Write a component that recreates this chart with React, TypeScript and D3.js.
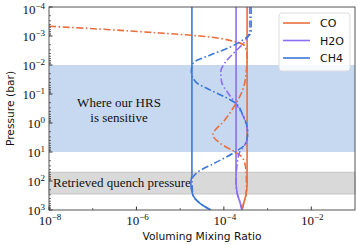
import * as d3 from "d3";

// pressures in bar, volume mixing ratios
const coSolidP = [1e-4, 126, 300, 630, 1000];
const coSolidX = [3.4e-4, 3.4e-4, 3.2e-4, 2.8e-4, 2.6e-4];

const h2oSolidP = [1e-4, 100, 250, 500, 1000];
const h2oSolidX = [1.9e-4, 1.9e-4, 2.0e-4, 2.3e-4, 2.6e-4];

const ch4SolidP = [1e-4, 60, 120, 300, 575, 1000];
const ch4SolidX = [1.86e-5, 1.86e-5, 1.75e-5, 1.95e-5, 2.8e-5, 5e-5];

const coEqP = [4.6e-4, 5.8e-4, 7.9e-4, 1e-3, 1.6e-3, 2.2e-3, 4.6e-3, 2.2e-2, 7.2e-2, 0.24, 0.79, 2.6, 4.9, 10, 16, 42, 160, 300, 630, 1000];
const coEqX = [1e-8, 1.5e-7, 3.5e-6, 2.8e-5, 1.9e-4, 3.0e-4, 3.4e-4, 3.2e-4, 2.7e-4, 1.8e-4, 1.05e-4, 5.6e-5, 8.1e-5, 1.8e-4, 2.7e-4, 3.2e-4, 3.3e-4, 3.2e-4, 2.8e-4, 2.6e-4];

const h2oEqP = [1e-4, 6.3e-4, 1.4e-3, 3.5e-3, 8.5e-3, 1.7e-2, 3.9e-2, 8.5e-2, 0.22, 0.68, 2.6, 5.8, 10, 28, 100, 250, 500, 1000];
const h2oEqX = [3.9e-4, 3.9e-4, 3.2e-4, 1.8e-4, 1.05e-4, 8.5e-5, 8.9e-5, 1.2e-4, 1.9e-4, 2.9e-4, 3.5e-4, 3.0e-4, 2.3e-4, 2.0e-4, 1.9e-4, 2.0e-4, 2.3e-4, 2.6e-4];

const ch4EqP = [1e-4, 7.2e-4, 1.6e-3, 2.4e-3, 4.6e-3, 8.5e-3, 1.7e-2, 3.9e-2, 7.2e-2, 0.126, 0.2, 0.52, 2.0, 4.9, 10, 24, 52, 93, 300, 575, 1000];
const ch4EqX = [4.2e-4, 4.2e-4, 2.3e-4, 1.4e-4, 4.8e-5, 2.0e-5, 1.8e-5, 2.3e-5, 4.8e-5, 1.05e-4, 1.8e-4, 2.7e-4, 3.5e-4, 3.2e-4, 1.8e-4, 6.2e-5, 2.4e-5, 1.86e-5, 1.95e-5, 2.8e-5, 5e-5];

const species = ["CO", "H2O", "CH4"];
const colors = ["#E8703F", "#8C6EF5", "#3C78D8"];

const yTickExps = [-4, -3, -2, -1, 0, 1, 2, 3];
const xTickExps = [-8, -6, -4, -2];

const sensitiveBand = [1e-2, 10];
const quenchBand = [50, 280];

export default function App() {
  const width = 357;
  const height = 245;
  const left = 49;
  const right = 355;
  const top = 7;
  const bottom = 210;

  const x = d3.scaleLog().domain([1e-8, 1e-1]).range([left, right]);
  const y = d3.scaleLog().domain([1e-4, 1e3]).range([top, bottom]);

  const line = d3
    .line<[number, number]>()
    .x((d) => x(d[0]))
    .y((d) => y(d[1]))
    .curve(d3.curveMonotoneY);

  const zip = (xs: number[], ps: number[]) =>
    ps.map((p, i) => [xs[i], p] as [number, number]);

  const solids = [
    zip(coSolidX, coSolidP),
    zip(h2oSolidX, h2oSolidP),
    zip(ch4SolidX, ch4SolidP),
  ];
  const eqs = [zip(coEqX, coEqP), zip(h2oEqX, h2oEqP), zip(ch4EqX, ch4EqP)];

  const yMinor: number[] = [];
  for (let e = -4; e < 3; e++) {
    for (let k = 2; k < 10; k++) yMinor.push(k * Math.pow(10, e));
  }
  const xMinor = [-7, -5, -3].map((e) => Math.pow(10, e));

  const serif = "'Liberation Serif', 'DejaVu Serif', serif";
  const sans = "'DejaVu Sans', sans-serif";

  return (
    <svg
      width={width}
      height={height}
      style={{ position: "absolute", left: 0, top: 0 }}
    >
      <defs>
        <clipPath id="plot">
          <rect x={left} y={top} width={right - left} height={bottom - top} />
        </clipPath>
      </defs>
      <rect x={0} y={0} width={width} height={height} fill="#fff" />

      <rect
        x={left}
        y={y(sensitiveBand[0])}
        width={right - left}
        height={y(sensitiveBand[1]) - y(sensitiveBand[0])}
        fill="#C6D9F0"
      />
      <rect
        x={left}
        y={y(quenchBand[0])}
        width={right - left}
        height={y(quenchBand[1]) - y(quenchBand[0])}
        fill="#D9D9D9"
        stroke="#C4C4C4"
        strokeWidth={1}
      />

      <text x={119} y={107} fontFamily={serif} fontSize={13} textAnchor="middle" fill="#111">
        Where our HRS
      </text>
      <text x={119} y={122} fontFamily={serif} fontSize={13} textAnchor="middle" fill="#111">
        is sensitive
      </text>
      <text x={53} y={187} fontFamily={serif} fontSize={13} fill="#111">
        Retrieved quench pressure
      </text>

      <g clipPath="url(#plot)">
        {solids.map((d, i) => (
          <path key={"s" + i} d={line(d) || ""} fill="none" stroke={colors[i]} strokeWidth={1.6} />
        ))}
        {eqs.map((d, i) => (
          <path
            key={"e" + i}
            d={line(d) || ""}
            fill="none"
            stroke={colors[i]}
            strokeWidth={1.6}
            strokeDasharray="7,2.5,1.6,2.5"
          />
        ))}
      </g>

      <rect
        x={left}
        y={top}
        width={right - left}
        height={bottom - top}
        fill="none"
        stroke="#555"
        strokeWidth={1}
      />

      {yTickExps.map((e) => (
        <g key={"yt" + e}>
          <line x1={left} x2={left + 3.5} y1={y(Math.pow(10, e))} y2={y(Math.pow(10, e))} stroke="#333" />
          <text x={left - 4} y={y(Math.pow(10, e)) + (e === -4 ? 7 : 5)} fontFamily={serif} fontSize={13} textAnchor="end" fill="#111">
            10
            <tspan fontSize={9} dy={-5.5}>
              {e < 0 ? "\u2212" + -e : String(e)}
            </tspan>
          </text>
        </g>
      ))}
      {yMinor.map((v, i) => (
        <line key={"ym" + i} x1={left} x2={left + 2} y1={y(v)} y2={y(v)} stroke="#333" strokeWidth={0.7} />
      ))}

      {xTickExps.map((e) => (
        <g key={"xt" + e}>
          <line x1={x(Math.pow(10, e))} x2={x(Math.pow(10, e))} y1={bottom} y2={bottom - 3.5} stroke="#333" />
          <text x={x(Math.pow(10, e)) + 1} y={225} fontFamily={serif} fontSize={13} textAnchor="middle" fill="#111">
            10
            <tspan fontSize={9} dy={-5.5}>
              {"\u2212" + -e}
            </tspan>
          </text>
        </g>
      ))}
      {xMinor.map((v, i) => (
        <line key={"xm" + i} x1={x(v)} x2={x(v)} y1={bottom} y2={bottom - 2} stroke="#333" strokeWidth={0.7} />
      ))}

      <text
        transform={`translate(14,${(top + bottom) / 2}) rotate(-90)`}
        fontFamily={sans}
        fontSize={10.7}
        textAnchor="middle"
        fill="#111"
      >
        Pressure (bar)
      </text>
      <text x={(left + right) / 2} y={240} fontFamily={sans} fontSize={10.7} textAnchor="middle" fill="#111">
        Voluming Mixing Ratio
      </text>

      <rect x={279} y={13} width={71} height={58} rx={3} fill="#fff" fillOpacity={0.85} stroke="#DDD" />
      {species.map((s, i) => (
        <g key={s}>
          <line x1={283} x2={310} y1={23 + i * 17.5} y2={23 + i * 17.5} stroke={colors[i]} strokeWidth={1.6} />
          <text x={320} y={23 + i * 17.5 + 4} fontFamily={sans} fontSize={11} fill="#111">
            {s}
          </text>
        </g>
      ))}
    </svg>
  );
}
